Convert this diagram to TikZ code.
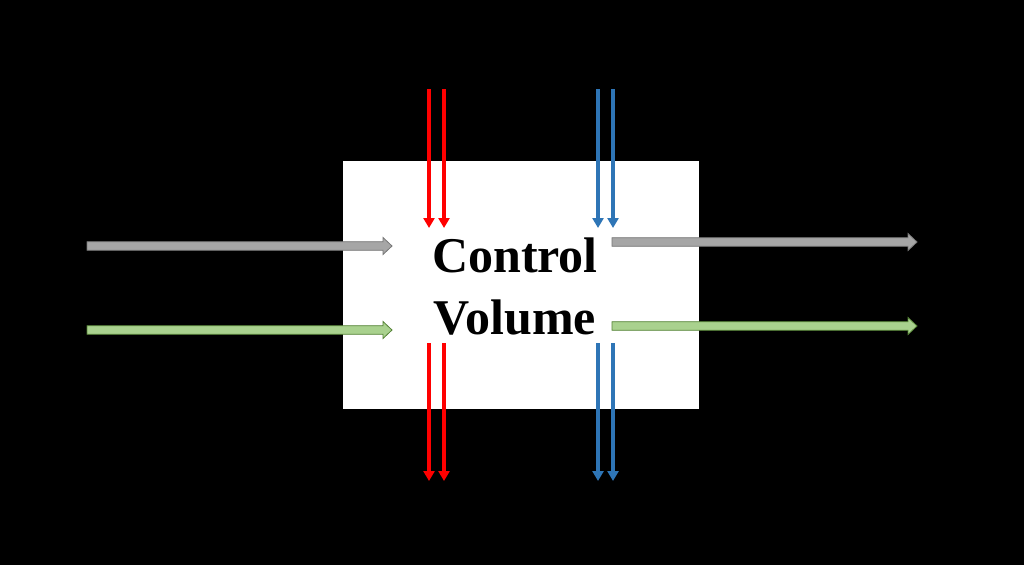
\documentclass[tikz,border=0pt]{standalone}
\usepackage{fontspec}
\setmainfont{Liberation Serif}
\usetikzlibrary{arrows.meta, calc}
\definecolor{cvred}{RGB}{255,0,0}
\definecolor{cvblue}{RGB}{46,117,182}
\definecolor{cvgray}{RGB}{166,166,166}
\definecolor{cvgrayline}{RGB}{118,118,118}
\definecolor{cvgreen}{RGB}{169,209,142}
\definecolor{cvgreenline}{RGB}{84,130,53}

% block arrow: style, tail, tip
\newcommand{\blockarrow}[3]{%
  \draw[#1] ($(#2)+(0,-4.3)$) -- ($(#3)+(-9,-4.3)$) -- ($(#3)+(-9,-8.5)$) -- (#3)
    -- ($(#3)+(-9,8.5)$) -- ($(#3)+(-9,4.3)$) -- ($(#2)+(0,4.3)$) -- cycle;}

\begin{document}
\begin{tikzpicture}[x=1pt, y=-1pt,
    volbox/.style={rectangle, fill=white, draw=none, minimum width=356pt, minimum height=248pt, inner sep=0pt},
    vollabel/.style={align=center, inner sep=0pt, font=\bfseries\fontsize{50}{62}\selectfont},
    heatred/.style={cvred, line width=4pt, -{Triangle[length=10pt,width=11pt]}},
    heatblue/.style={cvblue, line width=4pt, -{Triangle[length=10pt,width=11pt]}},
    flowgray/.style={fill=cvgray, draw=cvgrayline, line width=0.8pt, line join=miter},
    flowgreen/.style={fill=cvgreen, draw=cvgreenline, line width=0.8pt, line join=miter}
  ]
  \fill[black] (0,0) rectangle (1024,565);

  % Control volume
  \node[volbox] (cv) at (521,285) {};
  \node[vollabel] (lbl) at (515,287) {Control\\Volume};

  % Mass flows in and out
  \coordinate (grayin) at (87,246);
  \coordinate (grayinend) at (392,246);
  \coordinate (greenin) at (87,330);
  \coordinate (greeninend) at (392,330);
  \coordinate (grayout) at (612,242);
  \coordinate (grayoutend) at (917,242);
  \coordinate (greenout) at (612,326);
  \coordinate (greenoutend) at (917,326);

  \blockarrow{flowgray}{grayin}{grayinend}
  \blockarrow{flowgreen}{greenin}{greeninend}
  \blockarrow{flowgray}{grayout}{grayoutend}
  \blockarrow{flowgreen}{greenout}{greenoutend}

  % Heat and work across the boundary
  \foreach \x/\sty in {429/heatred, 444/heatred, 598/heatblue, 613/heatblue} {
    \coordinate (top\x) at (\x,89);
    \coordinate (topend\x) at (\x,228);
    \coordinate (bot\x) at (\x,343);
    \coordinate (botend\x) at (\x,481);
    \draw[\sty] (top\x) -- (topend\x);
    \draw[\sty] (bot\x) -- (botend\x);
  }
\end{tikzpicture}
\end{document}
